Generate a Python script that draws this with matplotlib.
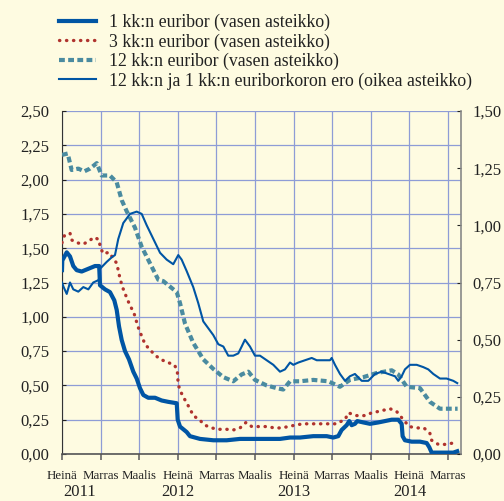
import matplotlib
matplotlib.use('Agg')
import matplotlib.pyplot as plt
from matplotlib.transforms import blended_transform_factory
from matplotlib.ticker import FuncFormatter, FixedLocator

plt.rcParams['font.family'] = ['Liberation Serif', 'DejaVu Serif']

BG = '#FEFBE1'
BLUE = '#0055A4'
RED = '#B0332E'
TEAL = '#4A8BA0'
GRID = '#8E9CD6'

# x = months since July 2011 (Heinä 2011 = 0)
m1_x = [0.0, 0.03, 0.49, 0.83, 1.17, 1.52, 2.04, 2.73, 3.42, 3.85, 3.94, 4.46, 4.97, 5.42,
        5.67, 5.91, 6.19, 6.53, 6.94, 7.39, 7.74, 8.08, 8.43, 8.94, 9.64, 10.33, 11.02,
        11.89, 11.99, 12.23, 12.92, 13.26, 14.3, 15.68, 17.07, 18.45, 19.82, 21.21, 22.59,
        23.63, 24.66, 26.04, 27.43, 28.11, 28.63, 28.98, 29.5, 29.77, 30.02, 30.36, 30.6,
        31.23, 31.92, 32.78, 33.47, 34.17, 34.85, 35.2, 35.3, 35.54, 36.24, 37.1, 37.79,
        38.06, 38.31, 39.17, 40.55, 40.96]
m1_y = [1.34, 1.41, 1.47, 1.44, 1.37, 1.34, 1.33, 1.35, 1.37, 1.37, 1.23, 1.20, 1.18, 1.12,
        1.05, 0.93, 0.83, 0.75, 0.69, 0.60, 0.55, 0.48, 0.43, 0.41, 0.41, 0.39, 0.38,
        0.37, 0.25, 0.20, 0.16, 0.13, 0.11, 0.10, 0.10, 0.11, 0.11, 0.11, 0.11,
        0.12, 0.12, 0.13, 0.13, 0.12, 0.13, 0.175, 0.21, 0.24, 0.21, 0.22, 0.24,
        0.23, 0.22, 0.23, 0.24, 0.25, 0.25, 0.22, 0.13, 0.10, 0.09, 0.09, 0.08,
        0.05, 0.01, 0.01, 0.01, 0.02]

m3_x = [0.0, 0.24, 0.83, 1.0, 1.52, 2.21, 2.73, 3.35, 3.87, 3.94, 4.28, 4.87, 5.67, 6.01,
        6.25, 6.53, 6.81, 7.15, 7.49, 7.74, 8.01, 8.32, 8.6, 9.12, 9.64, 10.23, 10.85,
        11.64, 11.95, 11.99, 12.12, 12.4, 12.85, 13.26, 13.6, 14.23, 14.82, 15.51, 16.2,
        17.07, 17.75, 18.45, 19.07, 19.66, 20.52, 21.28, 22.0, 22.77, 23.45, 24.15, 24.94,
        25.7, 26.5, 27.25, 28.47, 28.98, 29.33, 29.67, 30.54, 31.4, 32.09, 32.78, 33.37,
        33.99, 34.68, 35.37, 35.99, 36.75, 37.51, 38.13, 38.31, 39.0, 39.69, 40.55, 41.0]
m3_y = [1.54, 1.59, 1.61, 1.56, 1.54, 1.53, 1.55, 1.58, 1.56, 1.51, 1.46, 1.47, 1.39, 1.28,
        1.22, 1.17, 1.12, 1.07, 1.02, 0.96, 0.90, 0.85, 0.80, 0.76, 0.72, 0.69, 0.67,
        0.65, 0.61, 0.55, 0.49, 0.44, 0.38, 0.33, 0.28, 0.25, 0.21, 0.19, 0.18,
        0.18, 0.175, 0.19, 0.23, 0.20, 0.20, 0.20, 0.19, 0.19, 0.20, 0.21, 0.22,
        0.22, 0.22, 0.22, 0.22, 0.24, 0.25, 0.30, 0.28, 0.28, 0.30, 0.31, 0.32,
        0.33, 0.31, 0.25, 0.20, 0.19, 0.19, 0.15, 0.10, 0.07, 0.07, 0.08, 0.08]

m12_x = [0.0, 0.59, 1.0, 1.69, 2.31, 2.9, 3.6, 4.11, 4.97, 5.67, 6.19, 6.7, 7.56, 8.26,
         9.12, 9.98, 10.5, 11.89, 12.23, 12.75, 13.6, 14.64, 15.68, 16.72, 17.75, 18.62,
         19.31, 20.0, 21.2, 22.25, 22.93, 23.63, 24.66, 26.04, 27.6, 28.8, 29.84, 31.22,
         32.6, 34.17, 34.85, 35.72, 37.1, 38.13, 39.17, 40.55, 41.0]
m12_y = [2.18, 2.19, 2.07, 2.08, 2.06, 2.08, 2.12, 2.03, 2.03, 1.98, 1.85, 1.77, 1.65, 1.51,
         1.39, 1.27, 1.26, 1.18, 1.10, 0.95, 0.81, 0.69, 0.62, 0.56, 0.53, 0.58,
         0.60, 0.54, 0.50, 0.48, 0.47, 0.53, 0.53, 0.54, 0.53, 0.49, 0.54, 0.56,
         0.59, 0.61, 0.58, 0.49, 0.48, 0.38, 0.33, 0.33, 0.33]

sp_x = [0.0, 0.17, 0.49, 0.83, 1.17, 1.69, 2.21, 2.73, 3.24, 3.76, 3.89, 3.94, 4.63, 5.15,
        5.49, 5.83, 6.35, 7.05, 7.74, 8.26, 8.78, 9.47, 10.16, 10.85, 11.53, 12.05, 12.4,
        12.92, 13.6, 14.12, 14.64, 15.16, 15.68, 16.2, 16.72, 17.23, 17.75, 18.27, 18.62,
        18.96, 19.48, 20.0, 20.52, 21.21, 21.9, 22.59, 23.11, 23.63, 23.97, 24.49, 25.18,
        25.88, 26.4, 27.08, 27.77, 27.95, 28.29, 28.81, 29.33, 29.84, 30.36, 31.06, 31.74,
        32.44, 33.13, 33.82, 34.51, 34.85, 35.2, 35.54, 36.06, 36.76, 37.44, 37.96, 38.48,
        39.17, 39.86, 40.55, 40.96]
sp_y = [0.75, 0.73, 0.70, 0.75, 0.72, 0.71, 0.73, 0.72, 0.75, 0.76, 0.77, 0.81, 0.84, 0.86,
        0.87, 0.94, 1.01, 1.05, 1.06, 1.05, 1.00, 0.94, 0.88, 0.85, 0.83, 0.87, 0.85,
        0.80, 0.73, 0.66, 0.58, 0.55, 0.52, 0.48, 0.47, 0.43, 0.43, 0.44, 0.47,
        0.50, 0.47, 0.43, 0.43, 0.41, 0.39, 0.36, 0.37, 0.40, 0.39, 0.40, 0.41,
        0.42, 0.41, 0.41, 0.41, 0.42, 0.39, 0.35, 0.32, 0.34, 0.35, 0.32, 0.32,
        0.35, 0.36, 0.35, 0.34, 0.32, 0.34, 0.37, 0.39, 0.39, 0.38, 0.37, 0.35,
        0.33, 0.33, 0.32, 0.31]

tick_months = [0, 4, 8, 12, 16, 20, 24, 28, 32, 36, 40]
tick_labels = ['Heinä', 'Marras', 'Maalis', 'Heinä', 'Marras', 'Maalis',
               'Heinä', 'Marras', 'Maalis', 'Heinä', 'Marras']
years = ['2011', '2012', '2013', '2014']
year_pos = [1.8, 12, 24, 36]

left_ticks = [0.0, 0.25, 0.5, 0.75, 1.0, 1.25, 1.5, 1.75, 2.0, 2.25, 2.5]
right_ticks = [0.0, 0.25, 0.5, 0.75, 1.0, 1.25, 1.5]

labels = ['1 kk:n euribor (vasen asteikko)',
          '3 kk:n euribor (vasen asteikko)',
          '12 kk:n euribor (vasen asteikko)',
          '12 kk:n ja 1 kk:n euriborkoron ero (oikea asteikko)']

W, H = 504, 501
fig = plt.figure(figsize=(W / 100, H / 100), dpi=100, facecolor=BG)
ax = fig.add_axes([62 / W, (H - 454) / H, (461 - 62) / W, (454 - 111) / H])
ax.set_facecolor(BG)
ax2 = ax.twinx()

fmt = FuncFormatter(lambda v, p: f'{v:.2f}'.replace('.', ','))

ax.set_xlim(0, 41.35)
ax.set_ylim(0, 2.5)
ax2.set_ylim(0, 1.5)

ax.yaxis.set_major_locator(FixedLocator(left_ticks))
ax.yaxis.set_major_formatter(fmt)
ax2.yaxis.set_major_locator(FixedLocator(right_ticks))
ax2.yaxis.set_major_formatter(fmt)
ax.set_xticks(tick_months)
ax.set_xticklabels(tick_labels)

ax.grid(True, color=GRID, linewidth=0.9)
ax.set_axisbelow(True)

for s in ['top', 'right']:
    ax.spines[s].set_visible(False)
for s in ['top', 'left', 'bottom']:
    ax2.spines[s].set_visible(False)
ax.spines['left'].set_color('#333333')
ax.spines['bottom'].set_color('#555555')
ax.spines['bottom'].set_linewidth(1.2)
ax2.spines['right'].set_color('#888888')
ax2.spines['right'].set_linewidth(1.2)

ax.tick_params(axis='y', direction='in', length=3, labelsize=12, pad=9, colors='#222222')
ax.tick_params(axis='x', direction='out', length=4.5, width=1.2, color='#666666',
               labelsize=9.3, pad=7, labelcolor='#222222')
ax2.tick_params(axis='y', direction='in', length=3, labelsize=12, pad=8, colors='#222222')

l1, = ax.plot(m1_x, m1_y, color=BLUE, lw=3.0, solid_joinstyle='round', zorder=3)
l3, = ax.plot(m3_x, m3_y, color=RED, lw=2.4, linestyle=(0, (0.1, 2.0)),
              dash_capstyle='round', zorder=3)
l12, = ax.plot(m12_x, m12_y, color=TEAL, lw=3.0, linestyle=(0, (1.4, 0.8)),
               dash_capstyle='butt', zorder=3)
ls, = ax2.plot(sp_x, sp_y, color=BLUE, lw=1.5, zorder=3)

tr = blended_transform_factory(ax.transData, fig.transFigure)
for yr, xp in zip(years, year_pos):
    ax.text(xp, 1 - 492 / H, yr, transform=tr, ha='center', va='center',
            fontsize=12, color='#222222', clip_on=False)

leg = fig.legend([l1, l3, l12, ls], labels, loc='upper left',
                 bbox_to_anchor=(59 / W, 1 - 14 / H), frameon=False,
                 fontsize=12.8, handlelength=2.1, handletextpad=0.7,
                 labelspacing=0.12, borderpad=0, borderaxespad=0)
for t in leg.get_texts():
    t.set_color('#222222')

fig.savefig('out.png', dpi=100, facecolor=BG)
